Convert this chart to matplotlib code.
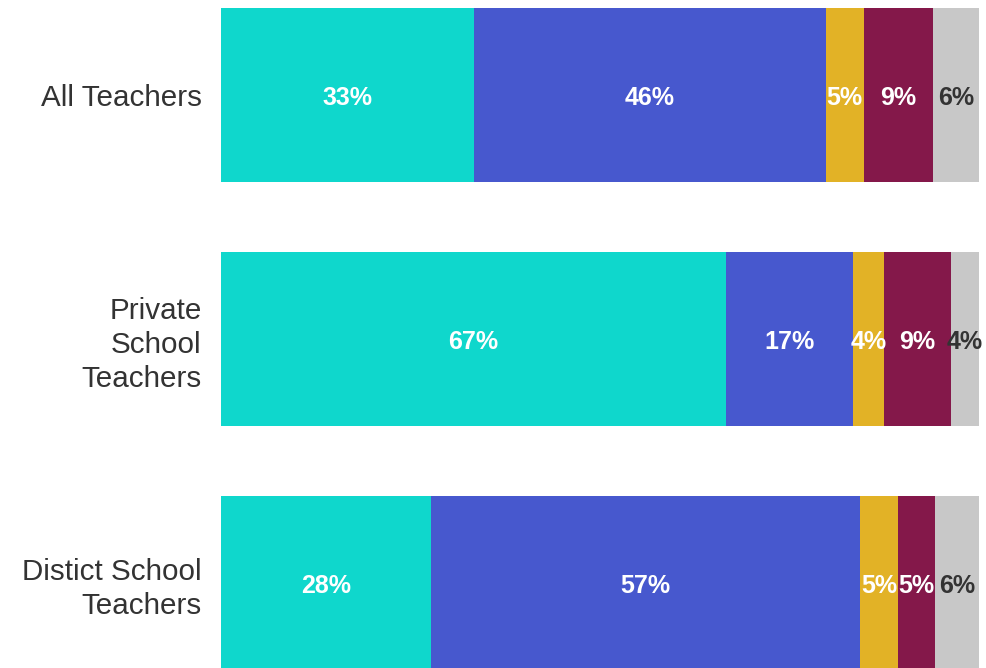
import matplotlib
matplotlib.use("Agg")
import matplotlib.pyplot as plt

categories = ["All Teachers", "Private\nSchool\nTeachers", "Distict School\nTeachers"]
seg1 = [33.4, 66.6, 27.7]
seg2 = [46.4, 16.8, 56.6]
seg3 = [5.0, 4.1, 5.0]
seg4 = [9.1, 8.8, 4.9]
seg5 = [6.1, 3.7, 5.8]
series = [seg1, seg2, seg3, seg4, seg5]
colors = ["#0FD7CC", "#4758CE", "#E2B226", "#84184A", "#C8C8C8"]
label_colors = ["white", "white", "white", "white", "#333333"]

plt.rcParams['font.family'] = ['Liberation Sans', 'DejaVu Sans']
fig = plt.figure(figsize=(9.87, 6.68), dpi=100)
ax = fig.add_axes([221/987, 0, 758/987, 660/668])

ypos = list(range(len(categories)))
left = [0.0] * len(categories)
for vals, c, lc in zip(series, colors, label_colors):
    ax.barh(ypos, vals, left=left, height=0.713, color=c, linewidth=0)
    for y, v, l in zip(ypos, vals, left):
        ax.text(l + v / 2, y + 0.01, f"{round(v)}%", ha="center", va="center",
                color=lc, fontsize=18, fontweight="bold")
    left = [l + v for l, v in zip(left, vals)]

ax.set_xlim(0, sum(s[0] for s in series))
ax.set_ylim(2.348, -0.357)
ax.set_yticks(ypos)
ax.set_yticklabels(categories, fontsize=21.3, color="#333333", linespacing=1.27)
ax.tick_params(axis="y", length=0, pad=14)
ax.set_xticks([])
for s in ax.spines.values():
    s.set_visible(False)

fig.savefig("out.png", dpi=100)
